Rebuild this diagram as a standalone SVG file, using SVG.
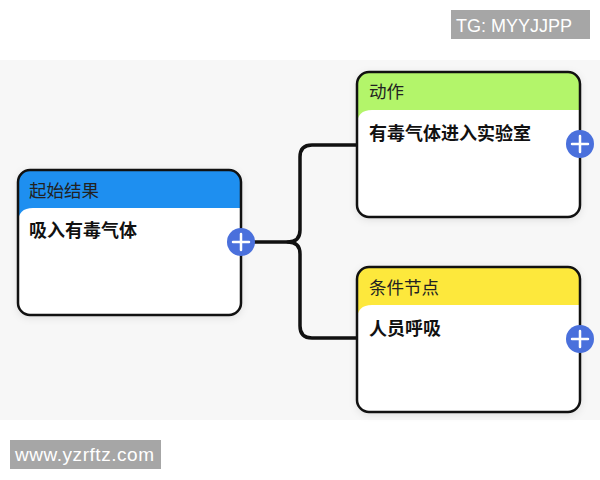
<svg xmlns="http://www.w3.org/2000/svg" width="600" height="480" viewBox="0 0 600 480">
  <defs>
    <filter id="sh" x="-20%" y="-20%" width="140%" height="140%">
      <feDropShadow dx="0" dy="2" stdDeviation="4" flood-color="#000" flood-opacity="0.12"/>
    </filter>
    <g id="plus">
      <circle r="14" fill="#4a70dc"/>
      <path d="M-8,0 H8 M0,-8 V8" stroke="#fff" stroke-width="2.5" stroke-linecap="round"/>
    </g>
  </defs>
  <style>
    .frame{fill:#fff;stroke:none}
    .border{fill:none;stroke:#111;stroke-width:2.5}
    .head{font-family:"Noto Sans CJK SC","Noto Sans",sans-serif;font-size:17.5px;fill:#222}
    .body{font-family:"Noto Sans CJK SC","Noto Sans",sans-serif;font-size:18px;font-weight:bold;fill:#111}
    .wm{font-family:"Liberation Sans",Arial,sans-serif;fill:#fff}
    .conn{fill:none;stroke:#111;stroke-width:3.5;stroke-linecap:round;stroke-linejoin:round}
  </style>
  <rect x="0" y="0" width="600" height="480" fill="#fff"/>
  <rect x="0" y="60" width="600" height="360" fill="#f7f7f7"/>

  <g id="connectors">
    <path class="conn" d="M254,242 H288 Q300,242 300,230 V157 Q300,145 312,145 H357"/>
    <path class="conn" d="M288,242 Q300,242 300,254 V326 Q300,338 312,338 H357"/>
  </g>

  <g id="node-start" transform="translate(18,170)">
    <rect class="frame" width="223" height="145" rx="12" filter="url(#sh)"/>
    <path d="M0,12 Q0,0 12,0 H211 Q223,0 223,12 V38 H15 Q0,38 0,53 Z" fill="#1e8ff0"/>
    <rect class="border" width="223" height="145" rx="12"/>
    <text class="head" x="11" y="27" fill="#1a2f55">起始结果</text>
    <text class="body" x="11" y="67">吸入有毒气体</text>
    <use href="#plus" x="223" y="72"/>
  </g>

  <g id="node-action" transform="translate(357,72)">
    <rect class="frame" width="223" height="145" rx="12" filter="url(#sh)"/>
    <path d="M0,12 Q0,0 12,0 H211 Q223,0 223,12 V38 H15 Q0,38 0,53 Z" fill="#b3f56a"/>
    <rect class="border" width="223" height="145" rx="12"/>
    <text class="head" x="12" y="26">动作</text>
    <text class="body" x="12" y="68">有毒气体进入实验室</text>
    <use href="#plus" x="223" y="72"/>
  </g>

  <g id="node-condition" transform="translate(357,267)">
    <rect class="frame" width="223" height="145" rx="12" filter="url(#sh)"/>
    <path d="M0,12 Q0,0 12,0 H211 Q223,0 223,12 V38 H15 Q0,38 0,53 Z" fill="#fde83c"/>
    <rect class="border" width="223" height="145" rx="12"/>
    <text class="head" x="12" y="27">条件节点</text>
    <text class="body" x="12" y="68">人员呼吸</text>
    <use href="#plus" x="223" y="72"/>
  </g>

  <g id="watermarks">
    <rect x="451" y="10" width="139" height="29" fill="#a6a6a6"/>
    <text class="wm" x="456" y="32" font-size="18">TG: MYYJJPP</text>
    <rect x="10" y="440" width="151" height="29" fill="#a6a6a6"/>
    <text class="wm" x="15" y="461" font-size="19" textLength="139">www.yzrftz.com</text>
  </g>
</svg>
